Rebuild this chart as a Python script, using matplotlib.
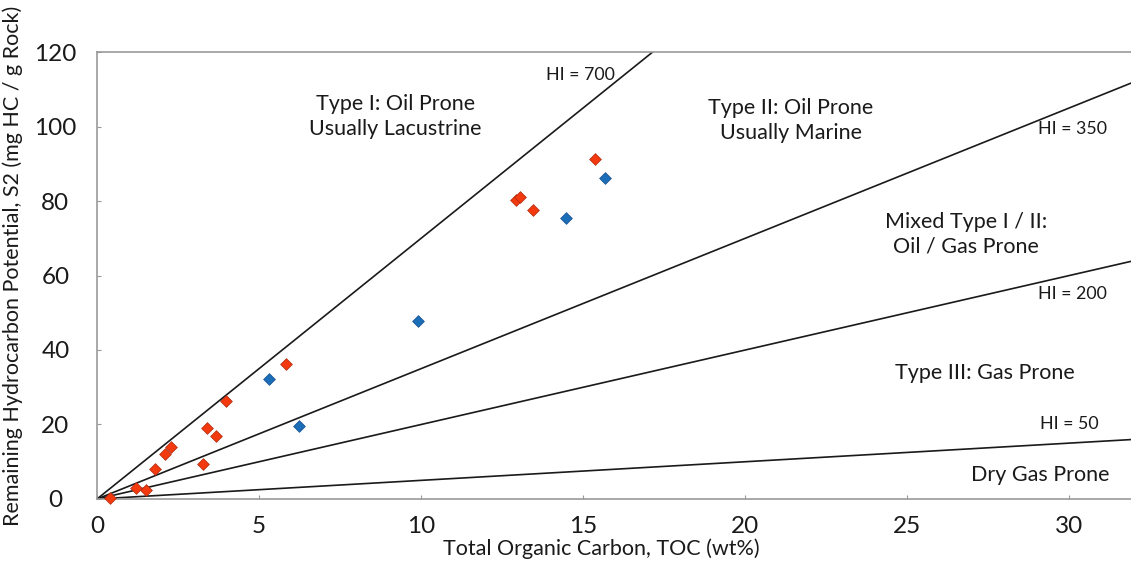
import matplotlib
matplotlib.use("Agg")
import matplotlib.pyplot as plt
import numpy as np

plt.rcParams['font.family'] = ['Lato', 'DejaVu Sans']

# data
red_toc = [0.40, 1.20, 1.51, 1.80, 2.11, 2.27, 3.26, 3.38, 3.66, 3.98, 5.83, 12.93, 13.06, 13.45, 15.37]
red_s2 = [0.3, 3.0, 2.4, 8.0, 12.2, 13.9, 9.3, 19.1, 16.9, 26.4, 36.3, 80.2, 81.0, 77.5, 91.3]
blue_toc = [5.30, 6.22, 9.91, 14.46, 15.67]
blue_s2 = [32.1, 19.6, 47.7, 75.4, 86.1]
hi_values = [700, 350, 200, 50]
hi_labels = ["HI = 700", "HI = 350", "HI = 200", "HI = 50"]
zone_labels = ["Type I: Oil Prone\nUsually Lacustrine",
               "Type II: Oil Prone\nUsually Marine",
               "Mixed Type I / II:\nOil / Gas Prone",
               "Type III: Gas Prone",
               "Dry Gas Prone"]
xticks = [0, 5, 10, 15, 20, 25, 30]
yticks = [0, 20, 40, 60, 80, 100, 120]

XMAX = 31.9
fig = plt.figure(figsize=(11.31, 5.63), dpi=100)
ax = fig.add_axes([0.0858, 0.1137, 1 - 0.0858, 0.9076 - 0.1137])
ax.set_xlim(0, XMAX)
ax.set_ylim(0, 120)

xs = np.array([0, XMAX])
for hi in hi_values:
    ax.plot(xs, xs * hi / 100.0, color='#1a1a1a', lw=1.2, zorder=2)

ax.scatter(red_toc, red_s2, marker='D', s=36, color='#F23A0E', edgecolor='#B02A10', linewidth=0.5, zorder=3, clip_on=False)
ax.scatter(blue_toc, blue_s2, marker='D', s=36, color='#1C6DB8', edgecolor='#145090', linewidth=0.5, zorder=3, clip_on=False)

# HI labels
hi_pos = [(14.9, 113.9), (30.1, 99.2), (30.1, 55.0), (30.0, 20.1)]
for (x, y), t in zip(hi_pos, hi_labels):
    ax.text(x, y, t, ha='center', va='center', fontsize=12.8, color='#1a1a1a')

zone_pos = [(9.2, 102.7), (21.4, 101.6), (26.8, 71.0), (27.4, 33.8), (29.1, 6.4)]
for (x, y), t in zip(zone_pos, zone_labels):
    ax.text(x, y, t, ha='center', va='center', fontsize=15.5, color='#1a1a1a', linespacing=1.3)

ax.set_xticks(xticks)
ax.set_yticks(yticks)
ax.tick_params(axis='both', direction='in', length=3, color='#999999', labelsize=17.5, colors='#1a1a1a')
ax.tick_params(axis='x', pad=12)
ax.tick_params(axis='y', pad=30)
for lab in ax.get_yticklabels():
    lab.set_horizontalalignment('center')
for s in ['left', 'bottom', 'top']:
    ax.spines[s].set_color('#9a9a9a')
    ax.spines[s].set_linewidth(1.2)
ax.spines['right'].set_visible(False)

ax.set_ylabel("Remaining Hydrocarbon Potential, S2 (mg HC / g Rock)", fontsize=15.5, color='#1a1a1a')
ax.yaxis.set_label_coords(-0.072, 0.521)
ax.set_xlabel("Total Organic Carbon, TOC (wt%)", fontsize=15.5, color='#1a1a1a')
ax.xaxis.set_label_coords(0.488, -0.088)

fig.savefig("out.png", dpi=100)
